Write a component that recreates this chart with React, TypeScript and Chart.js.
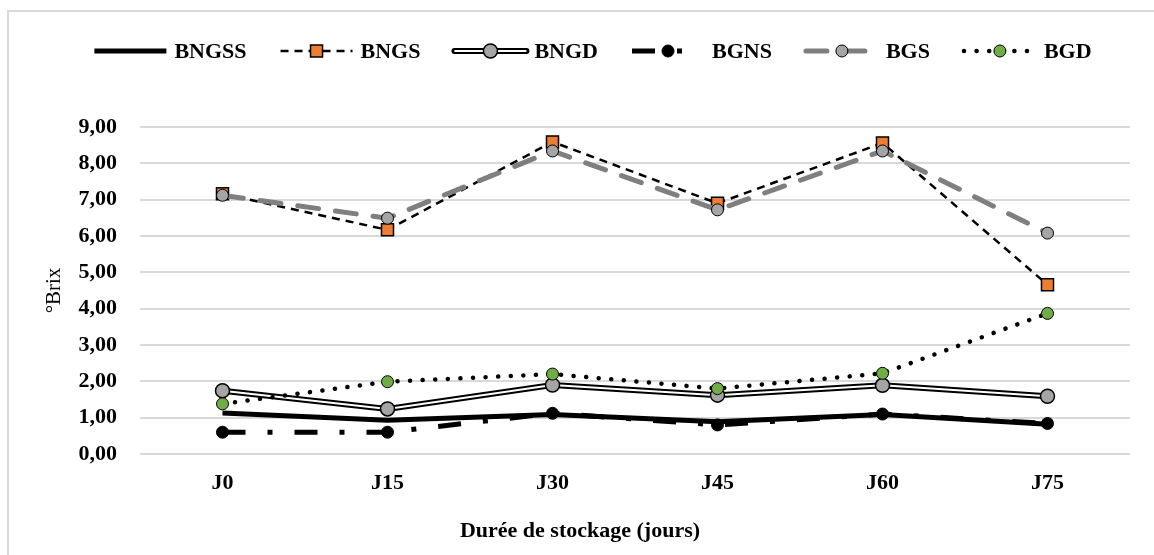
import React, { useEffect, useRef } from 'react';
import { Chart, registerables } from 'chart.js';

Chart.register(...registerables);

// ---- data ----
const categories = ['J0', 'J15', 'J30', 'J45', 'J60', 'J75'];
const bngss = [1.13, 0.93, 1.09, 0.89, 1.09, 0.82];
const bngs = [7.16, 6.17, 8.59, 6.9, 8.56, 4.66];
const bngd = [1.74, 1.24, 1.9, 1.62, 1.89, 1.59];
const bgns = [0.6, 0.6, 1.12, 0.8, 1.1, 0.84];
const bgs = [7.12, 6.49, 8.34, 6.72, 8.34, 6.08];
const bgd = [1.38, 1.99, 2.2, 1.8, 2.22, 3.87];
const yTicks = [0, 1, 2, 3, 4, 5, 6, 7, 8, 9];
const yTitle = '°Brix';
const xTitle = 'Durée de stockage (jours)';

const SERIF = '"Liberation Serif", "Times New Roman", serif';
const W = 1154;
const H = 555;

function drawSample(ctx: CanvasRenderingContext2D, d: any, x0: number, x1: number, y: number) {
  ctx.save();
  if (d.doubleLine) {
    ctx.setLineDash([]);
    ctx.lineCap = 'round';
    ctx.lineWidth = 6;
    ctx.strokeStyle = '#000';
    ctx.beginPath();
    ctx.moveTo(x0, y);
    ctx.lineTo(x1, y);
    ctx.stroke();
  }
  ctx.lineWidth = d.borderWidth;
  ctx.strokeStyle = d.borderColor;
  ctx.setLineDash(d.borderDash || []);
  ctx.lineCap = d.borderCapStyle || 'butt';
  ctx.beginPath();
  ctx.moveTo(x0, y);
  ctx.lineTo(x1, y);
  ctx.stroke();
  const r = d.pointRadius;
  if (r > 0) {
    const cx = (x0 + x1) / 2;
    ctx.setLineDash([]);
    ctx.fillStyle = d.pointBackgroundColor;
    ctx.strokeStyle = d.pointBorderColor;
    ctx.lineWidth = d.pointBorderWidth;
    ctx.beginPath();
    if (d.pointStyle === 'rect') {
      const s = r * Math.SQRT1_2;
      ctx.rect(cx - s, y - s, 2 * s, 2 * s);
    } else {
      ctx.arc(cx, y, r, 0, Math.PI * 2);
    }
    ctx.fill();
    ctx.stroke();
  }
  ctx.restore();
}

const decorPlugin = {
  id: 'decor',
  afterDraw(chart: any) {
    const ctx: CanvasRenderingContext2D = chart.ctx;
    const items = chart.data.datasets.filter((d: any) => !d.helper);
    ctx.save();
    ctx.font = `bold 22px ${SERIF}`;
    ctx.fillStyle = '#000';
    ctx.textBaseline = 'middle';
    ctx.textAlign = 'left';
    const symW = 72;
    const gapT = 8;
    const gapI = 34;
    const widths = items.map((d: any) => ctx.measureText(d.label).width);
    const total =
      items.length * (symW + gapT) +
      widths.reduce((a: number, b: number) => a + b, 0) +
      (items.length - 1) * gapI;
    let x = 593 - total / 2;
    const y = 51;
    items.forEach((d: any, i: number) => {
      drawSample(ctx, d, x, x + symW, y);
      ctx.fillStyle = '#000';
      ctx.fillText(d.label, x + symW + gapT, y + 1);
      x += symW + gapT + widths[i] + gapI;
    });
    // x axis title
    ctx.textAlign = 'center';
    ctx.fillText(xTitle, 580, 531);
    ctx.restore();
  },
};

export default function App() {
  const ref = useRef<HTMLCanvasElement | null>(null);

  useEffect(() => {
    if (!ref.current) return;
    const n = 6;
    const chart = new Chart(ref.current, {
      type: 'line',
      data: {
        labels: categories,
        datasets: [
          {
            label: 'BNGSS',
            data: bngss,
            borderColor: '#000',
            borderWidth: 5,
            pointRadius: 0,
            pointHoverRadius: 0,
            order: n - 0,
          },
          {
            label: 'BNGS',
            data: bngs,
            borderColor: '#000',
            borderWidth: 2.5,
            borderDash: [8, 6],
            pointStyle: 'rect',
            pointRadius: 8.5,
            pointBackgroundColor: '#ED7D31',
            pointBorderColor: '#000',
            pointBorderWidth: 1.5,
            order: n - 1,
          },
          {
            label: 'BNGD-outline',
            helper: true,
            data: bngd,
            borderColor: '#000',
            borderWidth: 6,
            pointRadius: 0,
            order: n - 2 + 0.5,
          },
          {
            label: 'BNGD',
            doubleLine: true,
            data: bngd,
            borderColor: '#fff',
            borderWidth: 2,
            pointStyle: 'circle',
            pointRadius: 7,
            pointBackgroundColor: '#A5A5A5',
            pointBorderColor: '#000',
            pointBorderWidth: 1.5,
            order: n - 2,
          },
          {
            label: 'BGNS',
            data: bgns,
            borderColor: '#000',
            borderWidth: 5,
            borderDash: [23, 22, 5, 22],
            pointStyle: 'circle',
            pointRadius: 6,
            pointBackgroundColor: '#000',
            pointBorderColor: '#000',
            pointBorderWidth: 1,
            order: n - 3,
          },
          {
            label: 'BGS',
            data: bgs,
            borderColor: '#7F7F7F',
            borderWidth: 5,
            borderDash: [21, 17],
            borderCapStyle: 'round',
            pointStyle: 'circle',
            pointRadius: 6,
            pointBackgroundColor: '#A5A5A5',
            pointBorderColor: '#000',
            pointBorderWidth: 1,
            order: n - 4,
          },
          {
            label: 'BGD',
            data: bgd,
            borderColor: '#000',
            borderWidth: 4.5,
            borderDash: [0.1, 12.5],
            borderCapStyle: 'round',
            pointStyle: 'circle',
            pointRadius: 6,
            pointBackgroundColor: '#70AD47',
            pointBorderColor: '#000',
            pointBorderWidth: 1,
            order: n - 5,
          },
        ] as any,
      },
      options: {
        responsive: false,
        animation: false,
        devicePixelRatio: 1,
        layout: { padding: { left: 0, right: W - 1130, top: 127, bottom: 0 } },
        plugins: {
          legend: { display: false },
          tooltip: { enabled: false },
        },
        elements: { line: { tension: 0 } },
        scales: {
          x: {
            offset: true,
            grid: { display: false, drawTicks: false, offset: true },
            border: { display: false },
            ticks: {
              padding: 16,
              color: '#000',
              font: { family: SERIF, size: 22, weight: 'bold' },
            },
            afterFit: (s: any) => {
              s.height = H - 454;
            },
          },
          y: {
            min: 0,
            max: 9,
            grid: { color: '#D9D9D9', lineWidth: 2, drawTicks: false },
            border: { display: false },
            afterBuildTicks: (s: any) => {
              s.ticks = yTicks.map((v) => ({ value: v }));
            },
            ticks: {
              padding: 23,
              color: '#000',
              font: { family: SERIF, size: 22, weight: 'bold' },
              callback: (v: any) => Number(v).toFixed(2).replace('.', ','),
            },
            title: {
              display: true,
              text: yTitle,
              color: '#000',
              font: { family: SERIF, size: 21, weight: 'normal' },
              padding: { top: 42, bottom: 0 },
            },
            afterFit: (s: any) => {
              s.width = 140;
            },
          },
        },
      },
      plugins: [decorPlugin],
    });
    return () => chart.destroy();
  }, []);

  return (
    <div style={{ position: 'absolute', left: 0, top: 0, width: W, height: H, overflow: 'hidden', background: '#fff' }}>
      <div
        style={{
          position: 'absolute',
          left: 7,
          top: 10,
          width: W,
          height: H,
          border: '2px solid #D9D9D9',
          boxSizing: 'border-box',
        }}
      />
      <canvas ref={ref} width={W} height={H} style={{ position: 'absolute', left: 0, top: 0, width: W, height: H }} />
    </div>
  );
}
